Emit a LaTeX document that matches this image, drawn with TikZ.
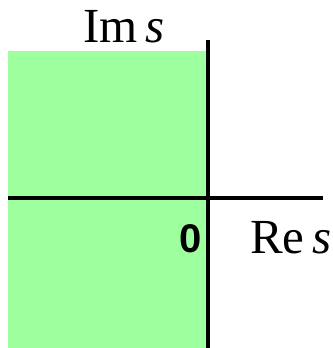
\documentclass[tikz,border=0pt]{standalone}
\usepackage{fontspec}
\setmainfont{Liberation Serif}
\newfontfamily\axisfont{Liberation Serif}
\newfontfamily\zerofont{Liberation Sans}
\usetikzlibrary{positioning}
\definecolor{stable}{RGB}{157,255,157}
\tikzset{axis/.style={line width=3.5pt, black},
         axislabel/.style={inner sep=0pt, font=\axisfont\fontsize{49}{49}\selectfont}}

\begin{document}
\begin{tikzpicture}[x=1pt, y=-1pt]
    \useasboundingbox (0,0) rectangle (332,348);
    % left half plane
    \fill [stable] (8,51) rectangle (207,348);

    \coordinate (left)   at (8,198);
    \coordinate (right)  at (323,198);
    \coordinate (top)    at (208,40);
    \coordinate (bottom) at (208,348);
    \draw [axis] (left) -- (right);
    \draw [axis] (top) -- (bottom);

    \node (im)   at (83,42)   [axislabel, anchor=base west] {Im\,\textit{s}};
    \node (re)   at (250,253) [axislabel, anchor=base west] {Re\,\textit{s}};
    \node (zero) at (202,252) [inner sep=0pt, anchor=base east,
                               font=\zerofont\bfseries\fontsize{40}{40}\selectfont] {0};
\end{tikzpicture}
\end{document}
